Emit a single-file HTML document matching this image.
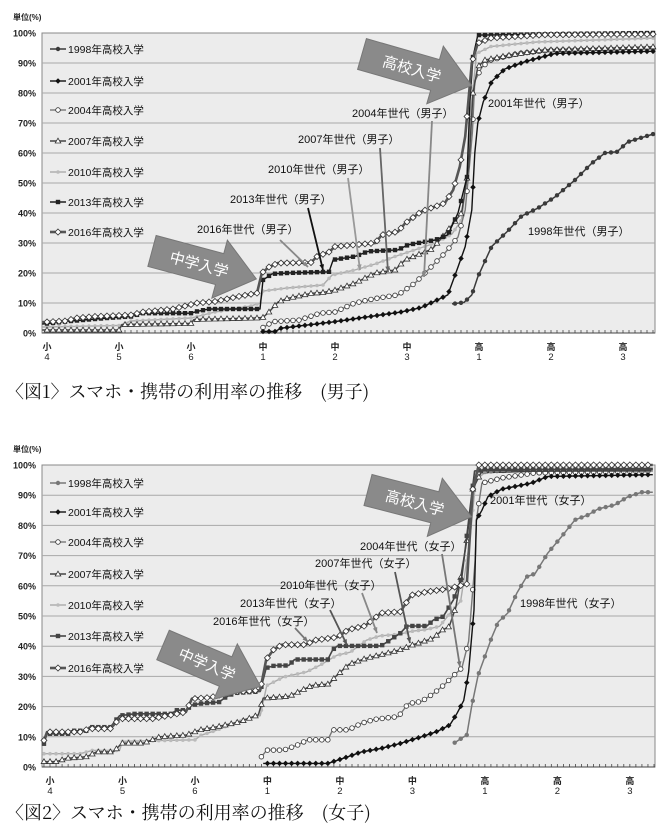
<!DOCTYPE html>
<html><head><meta charset="utf-8">
<style>
html,body{margin:0;padding:0;background:#fff;}
svg{display:block;font-family:"Liberation Sans","Noto Sans CJK JP",sans-serif;}
</style></head>
<body>
<svg id="s" width="670" height="832" viewBox="0 0 670 832" xmlns="http://www.w3.org/2000/svg"></svg>
<script>
const NS="http://www.w3.org/2000/svg";
const S=document.getElementById('s');
function el(t,a,txt,p){const e=document.createElementNS(NS,t);for(const k in a)e.setAttribute(k,a[k]);if(txt!=null)e.textContent=txt;(p||S).appendChild(e);return e;}
function interp(kp,m){for(let i=0;i<kp.length-1;i++){if(m>=kp[i][0]&&m<=kp[i+1][0]){const t=(m-kp[i][0])/(kp[i+1][0]-kp[i][0]||1);return kp[i][1]+t*(kp[i+1][1]-kp[i][1]);}}return null;}
const STY={
 y1998:{c:'#3a3a3a',w:1.5,mk:'dot',f:'#3a3a3a'},
 y1998f:{c:'#777',w:1.5,mk:'dot',f:'#777'},
 y2001:{c:'#111',w:1.4,mk:'dia',f:'#111',s:2.2},
 y2004:{c:'#777',w:1.4,mk:'circ',f:'#fff'},
 y2007:{c:'#444',w:1.5,mk:'tri',f:'#fff'},
 y2010:{c:'#aaa',w:1.4,mk:'dot',f:'#bbb',r:1.8},
 y2013:{c:'#111',w:1.4,mk:'sq',f:'#222'},
 y2013f:{c:'#444',w:1.6,mk:'sq',f:'#444'},
 y2016:{c:'#555',w:2.6,mk:'dia',f:'#fff',s:3}
};
function marker(st,x,y,g){
 const sw=0.8;
 if(st.mk==='dot')el('circle',{cx:x,cy:y,r:st.r||2.2,fill:st.f},null,g);
 else if(st.mk==='circ')el('circle',{cx:x,cy:y,r:2.3,fill:'#fff',stroke:'#333','stroke-width':sw},null,g);
 else if(st.mk==='sq')el('rect',{x:x-2.2,y:y-2.2,width:4.4,height:4.4,fill:st.f},null,g);
 else if(st.mk==='tri')el('polygon',{points:`${x},${y-2.8} ${x+2.8},${y+2} ${x-2.8},${y+2}`,fill:'#fff',stroke:'#333','stroke-width':sw},null,g);
 else if(st.mk==='dia'){const s=st.s;el('polygon',{points:`${x},${y-s} ${x+s},${y} ${x},${y+s} ${x-s},${y}`,fill:st.f,stroke:st.f==='#fff'?'#333':st.f,'stroke-width':sw},null,g);}
}
function series(C,st,kp){
 const m0=kp[0][0],m1=kp[kp.length-1][0];
 let pts=kp.map(p=>[p[0],p[1]]);
 const ms=[];for(let m=Math.ceil(m0);m<=Math.floor(m1);m++)ms.push(m);
 ms.forEach(m=>pts.push([m,interp(kp,m)]));
 pts.sort((a,b)=>a[0]-b[0]);
 const d=pts.map((p,i)=>(i?'L':'M')+C.X(p[0]).toFixed(1)+' '+C.Y(p[1]).toFixed(1)).join(' ');
 const g=el('g',{});
 el('path',{d:d,fill:'none',stroke:st.c,'stroke-width':st.w,'stroke-linejoin':'round'},null,g);
 ms.forEach(m=>marker(st,C.X(m),C.Y(interp(kp,m)),g));
}
function chart(C){
 el('rect',{x:C.L,y:C.T,width:C.R-C.L,height:C.B-C.T,fill:'#ececec',stroke:'#888','stroke-width':1});
 for(let k=0;k<=10;k++){const y=C.T+(C.B-C.T)*k/10;
  if(k>0&&k<10)el('line',{x1:C.L,y1:y,x2:C.R,y2:y,stroke:'#a8a8a8','stroke-width':1});
  el('text',{x:36,y:y+3.5,'font-size':9,'font-weight':'bold','text-anchor':'end',fill:'#222'},(100-k*10)+'%');}
 el('text',{x:13,y:C.T-13,'font-size':8,'font-weight':'bold',fill:'#222'},'単位(%)');
 for(let m=-1;m*C.dx+C.x0<=C.R;m++){const x=C.X(m);if(x<C.L)continue;el('line',{x1:x,y1:C.B,x2:x,y2:C.B-3,stroke:'#444','stroke-width':0.8});}
 el('line',{x1:C.L,y1:C.B,x2:C.R,y2:C.B,stroke:'#444','stroke-width':1});
 const lab=[['小','4'],['小','5'],['小','6'],['中','1'],['中','2'],['中','3'],['高','1'],['高','2'],['高','3']];
 lab.forEach((l,i)=>{const x=C.X(i*12);el('text',{x:x,y:C.B+17,'font-size':9,'font-weight':'bold','text-anchor':'middle',fill:'#222'},l[0]);el('text',{x:x,y:C.B+27,'font-size':9.5,'text-anchor':'middle',fill:'#222'},l[1]);});
 const names=['1998','2001','2004','2007','2010','2013','2016'];
 names.forEach((n,i)=>{const y=C.legY[i];const st=STY[C.sty[i]];
  el('line',{x1:50,y1:y,x2:66,y2:y,stroke:st.c,'stroke-width':st.w});
  marker(st,58,y);
  el('text',{x:68,y:y+4,'font-size':10.5,fill:'#111'},n+'年高校入学');});
}
function arrow(tx,ty,ang,len,txt,tsz){
 const g=el('g',{transform:`translate(${tx},${ty}) rotate(${ang})`});
 const hl=len-38;
 el('polygon',{points:`0,-16 ${hl},-16 ${hl},-30 ${len},0 ${hl},30 ${hl},16 0,16`,fill:'#8a8a8a',stroke:'#777','stroke-width':1},null,g);
 el('text',{x:hl/2+14,y:6,'font-size':tsz,fill:'#fff','text-anchor':'middle'},txt,g);
}
function label(x,y,t){el('text',{x:x,y:y,'font-size':11,fill:'#111'},t);}
function pointer(x1,y1,x2,y2,c){el('line',{x1:x1,y1:y1,x2:x2,y2:y2,stroke:c,'stroke-width':1.8});
 const a=Math.atan2(y2-y1,x2-x1),h=6;
 el('polygon',{points:`${x2},${y2} ${x2-h*Math.cos(a-0.4)},${y2-h*Math.sin(a-0.4)} ${x2-h*Math.cos(a+0.4)},${y2-h*Math.sin(a+0.4)}`,fill:c});}

const C1={L:42,R:655,T:33,B:333,x0:47,dx:6.0,X(m){return this.x0+this.dx*m;},Y(p){return this.B-(this.B-this.T)*p/100;},
 legY:[49,81,110,141,172,202,232],sty:['y1998','y2001','y2004','y2007','y2010','y2013','y2016']};
chart(C1);
series(C1,STY.y2010,[[-0.8,2],[12,2.5],[14,4],[24,5],[28,7],[34,9],[35.5,10],[36,14],[40,15],[46,16],[47.5,19.3],[51.3,21],[54.7,23],[58,25.5],[61.3,27.7],[64.7,30],[67.5,33],[69.1,37.7],[70,52],[70.8,77.7],[71.6,93.2],[74,95.5],[81.6,97],[101,98.3]]);
series(C1,STY.y2004,[[35.8,1.6],[37,3],[37.7,3.8],[42,4.3],[45.5,6.6],[48,7],[51.3,10],[54.7,11.5],[58.5,12.7],[61.3,16.6],[63,20],[66.3,26.6],[68.5,32],[69.7,41],[70.5,57.7],[70.9,67],[71.3,84],[72.5,88.7],[74,91],[78.6,93.2],[84,94.3],[101,95]]);
series(C1,STY.y2007,[[-0.8,1],[12,1],[12.5,2.8],[24,3.2],[24.5,4.5],[35,5],[36,5.2],[37,7],[38.5,10.3],[40,11.5],[44,13.2],[46,13.5],[48,14.3],[51.3,16.6],[54.7,20],[58,21],[59.7,24.4],[64.2,28],[66.3,33],[69.1,40],[70.3,55.5],[71,80],[71.8,88.7],[73,91],[77,92.6],[82.6,94.3],[101,95.4]]);
series(C1,STY.y1998,[[67.5,9.7],[69.5,10.2],[70.8,12.7],[71.8,18.7],[74.1,28.8],[76.8,34],[79.1,39],[81.8,41.6],[84.7,45.4],[88,51],[90.8,56.6],[93,60],[95,60.4],[96.8,63.7],[101,66.3]]);
series(C1,STY.y2001,[[35.8,0.5],[38,0.5],[39,1.6],[47.7,3.7],[53.5,5.4],[59,7],[62.4,8.5],[66.8,12.7],[68.5,22],[69.7,28.8],[70.8,41],[71.3,60],[71.8,70],[72.7,77],[74.1,83.8],[76.3,88],[79.6,90.4],[84.7,93.2],[101,93.9]]);
series(C1,STY.y2013,[[-0.8,3],[4,4],[10,5],[14,5.5],[16,6.6],[24,6.6],[25,7.2],[27,8],[35.5,8],[36,17.7],[37.5,19.7],[40,20],[47,20.4],[47.7,24.4],[51.3,25.5],[53.5,27.2],[58.5,27.7],[60.2,29.4],[64.7,31],[66.8,32.7],[68.5,40],[70,52],[70.5,77.7],[71,92],[71.8,99.3],[101,100]]);
series(C1,STY.y2016,[[-0.8,3.6],[3,4],[5,5],[8,5.5],[14,6],[16,7],[21,8],[24,9.5],[25,10],[28,10.5],[32,12.2],[35,13.3],[35.8,20],[37,22],[38.5,23.3],[44,23.5],[45,25.5],[47,27],[48,28.8],[54.7,30],[55.8,32.7],[58.5,33.8],[59.7,36.6],[62.4,40.5],[66.3,43.3],[67.7,47.7],[68.8,55.5],[69.7,65.5],[70.8,90],[71.8,96.6],[74,98.3],[82.6,99.4],[101,99.6]]);
arrow(152,251,15,108,'中学入学',15);
arrow(362,54,16,114,'高校入学',15);
label(352,117,'2004年世代（男子）');pointer(432,121,424,277,'#888');
label(298,143,'2007年世代（男子）');pointer(380,148,388,272,'#666');
label(268,173,'2010年世代（男子）');pointer(348,178,360,270,'#999');
label(230,203,'2013年世代（男子）');pointer(308,208,323,270,'#111');
label(197,233,'2016年世代（男子）');pointer(280,240,308,267,'#888');
label(488,107,'2001年世代（男子）');
label(528,235,'1998年世代（男子）');
el('text',{x:6,y:398,'font-size':18,fill:'#111','font-family':'"Noto Serif CJK SC","Liberation Serif",serif'},'〈図1〉スマホ・携帯の利用率の推移　(男子)');

const C2={L:42,R:655,T:465,B:767,x0:50,dx:6.04,X(m){return this.x0+this.dx*m;},Y(p){return this.B-(this.B-this.T)*p/100;},
 legY:[483,512,542,574,605,636,668],sty:['y1998f','y2001','y2004','y2007','y2010','y2013f','y2016']};
chart(C2);
series(C2,STY.y2010,[[-1,4.4],[5,4.4],[7,5.5],[11.5,5.5],[12,8.5],[24,9],[25,10.5],[28,12.5],[31.5,15.5],[34.8,17],[35.9,27],[38.7,29.8],[42.5,31.5],[44.7,33.7],[47.5,37],[49.7,38],[52.4,42],[54.6,43.4],[57.9,44],[60.1,45],[62.3,45.5],[64.5,46.6],[66.7,52],[68,55],[69.5,75],[70.5,95],[72,97.5],[80,98.5],[99.8,99]]);
series(C2,STY.y2004,[[34.8,2.9],[35.9,5.6],[38.7,5.6],[41,7.3],[42.7,9],[46,9],[46.8,12.3],[49.4,12.3],[51.6,14.5],[53.8,15.8],[57.7,16.7],[59.3,21],[61.5,21.7],[63.6,24.5],[65.3,27.3],[67,30.6],[68.2,32.8],[69.3,41.6],[70.4,68.5],[70.6,81.8],[71.5,94],[74.8,95.7],[80.3,97.4],[99.8,98]]);
series(C2,STY.y2007,[[-1,1.8],[1.1,1.8],[2.8,2.9],[6.1,3.4],[7.7,5],[10.5,5],[11.9,7.9],[15.5,7.9],[18.2,10],[22.6,10.6],[24.8,12.3],[27.6,13.3],[31.5,15],[34.5,17.3],[35.3,22.8],[39.6,23.4],[42.3,26],[43.4,27],[46.2,27.5],[47.3,30],[49.5,34],[52.3,36],[55.6,37.6],[57.8,38.7],[60,40.4],[61.7,41.5],[63.4,42.6],[65,45.4],[66.1,46.5],[67.2,53],[69,75],[70,92],[71.5,98],[80,98.5],[99.8,98.8]]);
series(C2,STY.y1998f,[[66.8,7.8],[69,10.6],[69.8,20],[70.9,30.5],[73.1,42.7],[74.2,48],[75.8,51],[77.3,57.6],[78.9,63],[80.3,64],[82.4,70.8],[84.7,76.3],[86.9,81.8],[89,83.4],[90.7,85.4],[93.5,86.8],[95.7,89.5],[98,91],[99.8,91]]);
series(C2,STY.y2001,[[35.3,1.2],[46,1.2],[48.6,2.9],[51.6,5],[54.9,6.2],[58,7.8],[61.5,10],[64,11.7],[66.2,13.9],[67.4,17.8],[68.5,22],[69.3,31.5],[70.2,52],[70.6,81.8],[71.5,85],[72.5,89.5],[74.8,92],[79.7,94],[82.4,96.2],[99.8,96.8]]);
series(C2,STY.y2013f,[[-1,7.7],[-0.5,11],[3,11],[3.5,12],[6,12],[6.5,13.2],[10,13.2],[11.5,17],[14,17.6],[20,17.6],[21,18.8],[22.5,18.8],[23.5,20.5],[25,21],[28,21.5],[29,23],[30.5,24.5],[34.8,25],[35.8,32.8],[37.2,33.6],[39.5,33.6],[40.5,35.6],[46,35.6],[46.8,38.8],[47.6,40.1],[54.8,40.1],[55.9,41.5],[58,44.3],[59.1,46.7],[62.4,46.7],[63.5,48.7],[65.1,49.8],[66.8,55.4],[68.2,63],[69.5,85],[70.3,98],[72,98.5],[99.8,98.5]]);
series(C2,STY.y2016,[[-1,8.8],[-0.5,11.6],[5,11.6],[6.5,12.7],[10,12.7],[11.5,16],[17,16],[22.5,18.2],[23.5,22.6],[26.5,23],[30,24.8],[34.8,25.4],[35.8,35.6],[37,38.8],[38.4,40.5],[42.3,40.5],[43.9,42],[47.6,43],[49.4,45.5],[52.1,46.7],[53.8,49.3],[54.8,51],[58,51.4],[59.8,56.9],[62.4,58],[65.8,59],[69,60.6],[70,92],[71,100],[99.8,100]]);
arrow(163,645,23,106,'中学入学',15);
arrow(368,490,14.5,107,'高校入学',15);
label(360,550,'2004年世代（女子）');pointer(442,554,460,667,'#777');
label(315,567,'2007年世代（女子）');pointer(395,572,410,643,'#555');
label(280,589,'2010年世代（女子）');pointer(362,593,377,633,'#888');
label(240,607,'2013年世代（女子）');pointer(330,610,347,645,'#555');
label(213,625,'2016年世代（女子）');pointer(295,628,308,642,'#777');
label(490,504,'2001年世代（女子）');
label(520,607,'1998年世代（女子）');
el('text',{x:6,y:819,'font-size':18,fill:'#111','font-family':'"Noto Serif CJK SC","Liberation Serif",serif'},'〈図2〉スマホ・携帯の利用率の推移　(女子)');
</script>
</body></html>
